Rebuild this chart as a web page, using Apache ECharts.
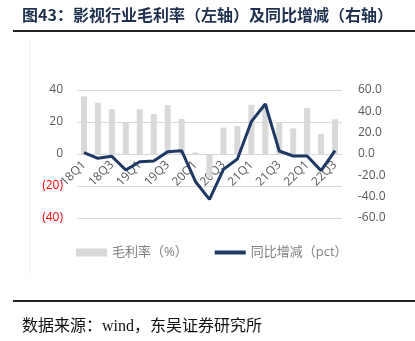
<!DOCTYPE html>
<html><head><meta charset="utf-8">
<script src="https://cdn.jsdelivr.net/npm/echarts@6/dist/echarts.min.js"></script>
<style>html,body{margin:0;padding:0;background:#fff}#c{width:415px;height:341px}</style>
</head><body><div id="c"></div>
<script>
const categories = ['18Q1','18Q2','18Q3','18Q4','19Q1','19Q2','19Q3','19Q4','20Q1','20Q2','20Q3','20Q4','21Q1','21Q2','21Q3','21Q4','22Q1','22Q2','22Q3'];
const grossMargin = [36, 32, 28, 20, 28, 25, 30.5, 22, 1, -15, 16.5, 17.5, 30.8, 31, 19.8, 16, 28.7, 12.5, 21.7];
const yoyChange = [1.3, -4, -2.2, -15, -7.2, -6.6, 2.2, 3.1, -26, -42.5, -14.4, -4.7, 30.3, 46.9, 2.8, -1.9, -1.9, -15.6, 3.1];
const leftTicks = {min: -40, max: 40, interval: 20};
const rightTicks = {min: -60, max: 60, interval: 20};
const titleText = '图43：影视行业毛利率（左轴）及同比增减（右轴）';
const sourceText = '数据来源：wind，东吴证券研究所';
const seriesNames = ['毛利率（%）', '同比增减（pct）'];

const chart = echarts.init(document.getElementById('c'), null, {renderer: 'canvas'});
const font = '"Open Sans", "Noto Sans CJK SC", sans-serif';
chart.setOption({
  animation: false,
  backgroundColor: '#fff',
  grid: {left: 77, right: 73, top: 90, bottom: 123},
  legend: {
    top: 241, left: 71, itemGap: 27, itemWidth: 31, itemHeight: 8,
    textStyle: {color: '#7f7f7f', fontSize: 13, fontFamily: font},
    data: [
      {name: seriesNames[0], icon: 'rect'},
      {name: seriesNames[1], icon: 'path://M0,0 L31,0 L31,4 L0,4 Z', itemStyle: {color: '#1f3864'}}
    ]
  },
  xAxis: {
    type: 'category', data: categories, offset: -64,
    axisLine: {show: false, onZero: false},
    axisTick: {show: false},
    axisLabel: {interval: 1, rotate: 45, color: '#595959', fontSize: 12, fontFamily: font, margin: 9}
  },
  yAxis: [
    {type: 'value', min: leftTicks.min, max: leftTicks.max, interval: leftTicks.interval,
     axisLine: {show: false}, axisTick: {show: false},
     splitLine: {lineStyle: {color: '#d9d9d9', width: 1}},
     axisLabel: {fontSize: 12, fontFamily: font, margin: 14,
       formatter: v => v < 0 ? '{n|(' + Math.abs(v) + ')}' : '{p|' + v + '}',
       rich: {n: {color: '#ff0000', fontSize: 12, fontFamily: font}, p: {color: '#595959', fontSize: 12, fontFamily: font}}}},
    {type: 'value', min: rightTicks.min, max: rightTicks.max, interval: rightTicks.interval,
     axisLine: {show: false}, axisTick: {show: false}, splitLine: {show: false},
     axisLabel: {color: '#595959', fontSize: 12, fontFamily: font, margin: 16, formatter: v => v.toFixed(1)}}
  ],
  series: [
    {name: seriesNames[0], type: 'bar', data: grossMargin, barWidth: 6, itemStyle: {color: '#d9d9d9'}, yAxisIndex: 0, z: 1},
    {name: seriesNames[1], type: 'line', data: yoyChange, yAxisIndex: 1, symbol: 'none',
     lineStyle: {color: '#1f3864', width: 3}, itemStyle: {color: '#1f3864'}, z: 3}
  ],
  graphic: [
    {type: 'text', left: 22, top: 7, style: {text: titleText, fill: '#1f3050', font: 'bold 16px "Noto Sans CJK SC", sans-serif'}},
    {type: 'line', shape: {x1: 13, y1: 31, x2: 415, y2: 31}, style: {stroke: '#222', lineWidth: 2}},
    {type: 'line', shape: {x1: 30, y1: 40, x2: 30, y2: 275}, style: {stroke: '#f2f2f2', lineWidth: 1}},
    {type: 'line', shape: {x1: 13, y1: 301, x2: 415, y2: 301}, style: {stroke: '#222', lineWidth: 2}},
    {type: 'text', left: 22, top: 319, style: {text: sourceText, fill: '#111', font: '16px "Liberation Serif", "Noto Sans CJK SC", serif'}}
  ]
});
</script></body></html>
